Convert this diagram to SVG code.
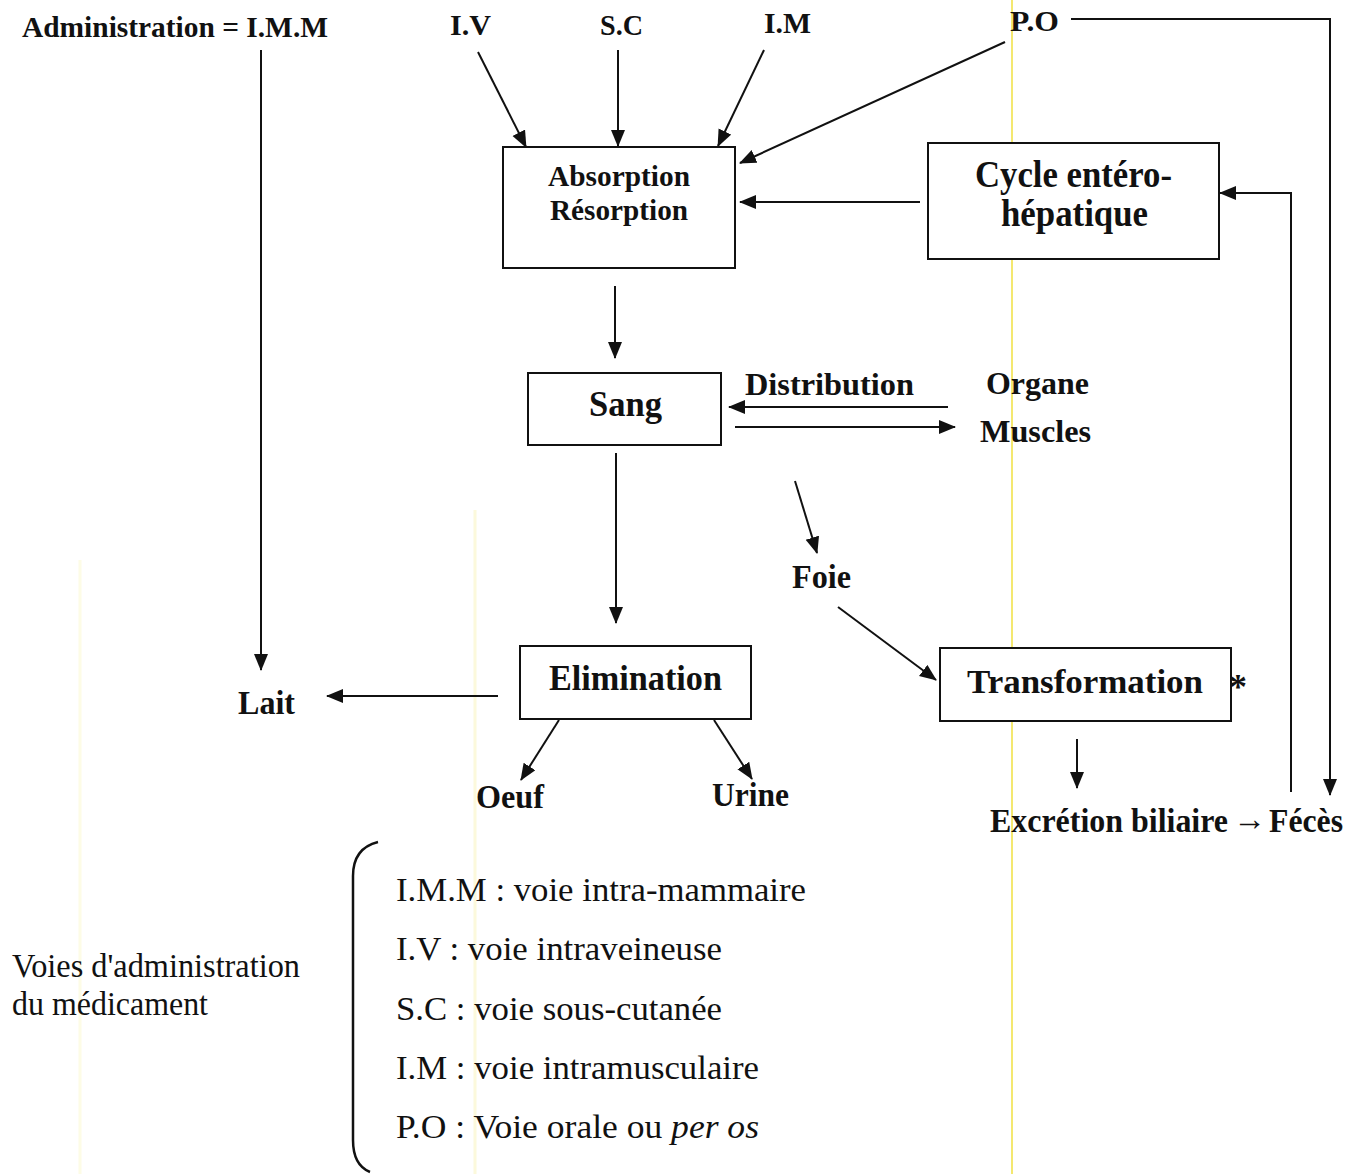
<svg xmlns="http://www.w3.org/2000/svg" width="1362" height="1174" viewBox="0 0 1362 1174">
<defs>
<marker id="ah" markerUnits="userSpaceOnUse" markerWidth="18" markerHeight="16" refX="16" refY="7" orient="auto">
<path d="M0,0 L17,7 L0,14 z" fill="#111"/>
</marker>
<style>
.b{font-family:"Liberation Serif","Times New Roman",serif;font-weight:bold;fill:#111}
.r{font-family:"Liberation Serif","Times New Roman",serif;fill:#111}
.box{fill:#fff;stroke:#111;stroke-width:2}
.c line,.c polyline{stroke:#111;stroke-width:2;fill:none}
.arr{marker-end:url(#ah)}
</style>
</defs>
<rect width="1362" height="1174" fill="#fff"/>
<g id="scan-artifacts">
<line x1="80" y1="560" x2="80" y2="1174" stroke="#fdfce6" stroke-width="3"/>
<line x1="475" y1="510" x2="475" y2="1174" stroke="#fcf9dc" stroke-width="3"/>
<line x1="1012" y1="0" x2="1012" y2="1174" stroke="#f0e040" stroke-width="1.5"/>
</g>
<g class="c" id="connectors">
<line class="arr" x1="261" y1="50" x2="261" y2="670"/>
<line class="arr" x1="478" y1="52" x2="526" y2="147"/>
<line class="arr" x1="618" y1="50" x2="618" y2="146"/>
<line class="arr" x1="764" y1="50" x2="718" y2="146"/>
<line class="arr" x1="1005" y1="42" x2="740" y2="163"/>
<polyline class="arr" points="1071,19 1330,19 1330,795"/>
<line class="arr" x1="920" y1="202" x2="740" y2="202"/>
<polyline class="arr" points="1291,792 1291,193 1220,193"/>
<line class="arr" x1="615" y1="286" x2="615" y2="358"/>
<line class="arr" x1="948" y1="407" x2="729" y2="407"/>
<line class="arr" x1="735" y1="427" x2="955" y2="427"/>
<line class="arr" x1="616" y1="453" x2="616" y2="623"/>
<line class="arr" x1="795" y1="481" x2="817" y2="553"/>
<line class="arr" x1="838" y1="607" x2="936" y2="680"/>
<line class="arr" x1="498" y1="696" x2="327" y2="696"/>
<line class="arr" x1="559" y1="720" x2="521" y2="780"/>
<line class="arr" x1="714" y1="720" x2="752" y2="779"/>
<line class="arr" x1="1077" y1="739" x2="1077" y2="788"/>
</g>
<g id="n-imm"><text class="b" x="22" y="37" font-size="30" textLength="306" lengthAdjust="spacingAndGlyphs">Administration = I.M.M</text></g>
<g id="n-iv"><text class="b" x="450" y="35" font-size="30" textLength="41" lengthAdjust="spacingAndGlyphs">I.V</text></g>
<g id="n-sc"><text class="b" x="600" y="35" font-size="30" textLength="43" lengthAdjust="spacingAndGlyphs">S.C</text></g>
<g id="n-im"><text class="b" x="764" y="33" font-size="30" textLength="47" lengthAdjust="spacingAndGlyphs">I.M</text></g>
<g id="n-po"><text class="b" x="1010" y="31" font-size="30" textLength="49" lengthAdjust="spacingAndGlyphs">P.O</text></g>
<g id="n-absorption">
<rect class="box" x="503" y="147" width="232" height="121"/>
<text class="b" x="548" y="186" font-size="30" textLength="142" lengthAdjust="spacingAndGlyphs">Absorption</text>
<text class="b" x="550" y="220" font-size="30" textLength="138" lengthAdjust="spacingAndGlyphs">Résorption</text>
</g>
<g id="n-cycle">
<rect class="box" x="928" y="143" width="291" height="116"/>
<text class="b" x="975" y="187" font-size="37" textLength="197" lengthAdjust="spacingAndGlyphs">Cycle entéro-</text>
<text class="b" x="1001" y="226" font-size="37" textLength="147" lengthAdjust="spacingAndGlyphs">hépatique</text>
</g>
<g id="n-sang">
<rect class="box" x="528" y="373" width="193" height="72"/>
<text class="b" x="589" y="416" font-size="36" textLength="73" lengthAdjust="spacingAndGlyphs">Sang</text>
</g>
<g id="n-distribution"><text class="b" x="745" y="395" font-size="31" textLength="169" lengthAdjust="spacingAndGlyphs">Distribution</text></g>
<g id="n-organe">
<text class="b" x="986" y="394" font-size="31" textLength="103" lengthAdjust="spacingAndGlyphs">Organe</text>
<text class="b" x="980" y="442" font-size="31" textLength="111" lengthAdjust="spacingAndGlyphs">Muscles</text>
</g>
<g id="n-foie"><text class="b" x="792" y="588" font-size="33" textLength="59" lengthAdjust="spacingAndGlyphs">Foie</text></g>
<g id="n-elimination">
<rect class="box" x="520" y="646" width="231" height="73"/>
<text class="b" x="549" y="690" font-size="35" textLength="173" lengthAdjust="spacingAndGlyphs">Elimination</text>
</g>
<g id="n-lait"><text class="b" x="238" y="714" font-size="33" textLength="57" lengthAdjust="spacingAndGlyphs">Lait</text></g>
<g id="n-oeuf"><text class="b" x="476" y="808" font-size="33" textLength="68" lengthAdjust="spacingAndGlyphs">Oeuf</text></g>
<g id="n-urine"><text class="b" x="712" y="806" font-size="33" textLength="77" lengthAdjust="spacingAndGlyphs">Urine</text></g>
<g id="n-transformation">
<rect class="box" x="940" y="648" width="291" height="73"/>
<text class="b" x="967" y="693" font-size="34" textLength="236" lengthAdjust="spacingAndGlyphs">Transformation</text>
<text class="b" x="1229" y="699" font-size="36">*</text>
</g>
<g id="n-excretion">
<text class="b" x="990" y="832" font-size="33" textLength="238" lengthAdjust="spacingAndGlyphs">Excrétion biliaire</text>
<text class="b" x="1233" y="830" font-size="33" textLength="33" lengthAdjust="spacingAndGlyphs">→</text>
<text class="b" x="1269" y="832" font-size="33" textLength="74" lengthAdjust="spacingAndGlyphs">Fécès</text>
</g>
<g id="legend">
<path d="M378,842 C362,846 353,856 353,876 L353,1140 C353,1158 360,1168 370,1172" fill="none" stroke="#111" stroke-width="2.5"/>
<text class="r" x="12" y="977" font-size="33" textLength="288" lengthAdjust="spacingAndGlyphs">Voies d'administration</text>
<text class="r" x="12" y="1015" font-size="33" textLength="196" lengthAdjust="spacingAndGlyphs">du médicament</text>
<text class="r" x="396" y="901" font-size="33" textLength="410" lengthAdjust="spacingAndGlyphs">I.M.M : voie intra-mammaire</text>
<text class="r" x="396" y="960" font-size="33" textLength="326" lengthAdjust="spacingAndGlyphs">I.V : voie intraveineuse</text>
<text class="r" x="396" y="1020" font-size="33" textLength="326" lengthAdjust="spacingAndGlyphs">S.C : voie sous-cutanée</text>
<text class="r" x="396" y="1079" font-size="33" textLength="363" lengthAdjust="spacingAndGlyphs">I.M : voie intramusculaire</text>
<text class="r" x="396" y="1138" font-size="33" textLength="363" lengthAdjust="spacingAndGlyphs">P.O : Voie orale ou <tspan font-style="italic">per os</tspan></text>
</g>
</svg>
